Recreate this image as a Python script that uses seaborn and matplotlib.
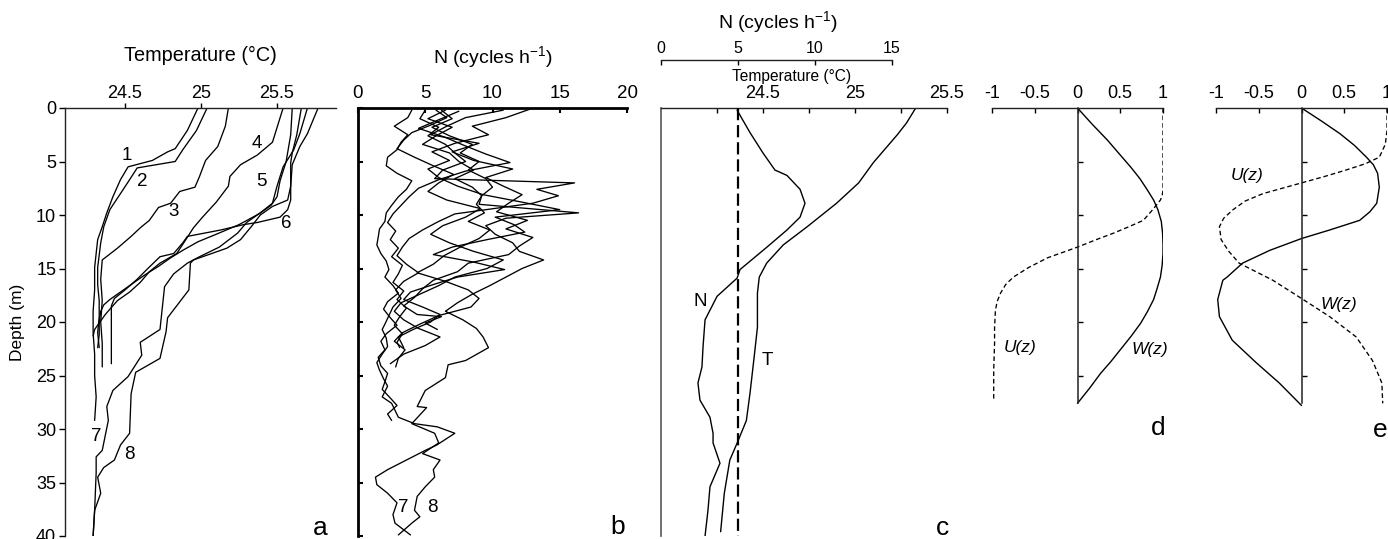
import numpy as np
import matplotlib
matplotlib.use('Agg')
import matplotlib.pyplot as plt
import seaborn as sns

sns.set_style('white')
plt.rcParams['font.family'] = ['Liberation Sans', 'DejaVu Sans']
plt.rcParams['mathtext.fontset'] = 'custom'
plt.rcParams['mathtext.rm'] = 'Liberation Sans'
plt.rcParams['mathtext.it'] = 'Liberation Sans:italic'
for key in ('text.color', 'axes.labelcolor', 'xtick.color', 'ytick.color'):
    plt.rcParams[key] = 'black'
FONT = ['Liberation Sans', 'DejaVu Sans']

# ---------------- data: panel a (temperature profiles) ----------------
a_T1 = [24.98, 24.91, 24.83, 24.78, 24.68, 24.52, 24.47, 24.42, 24.38, 24.35, 24.32, 24.30, 24.30, 24.29, 24.29, 24.30, 24.30, 24.31, 24.30]
a_d1 = [0, 2.1, 3.8, 4.1, 4.9, 5.5, 6.7, 8.3, 9.8, 11.1, 12.3, 14.9, 17, 19, 21, 23, 25, 27, 29.2]
a_T2 = [25.04, 24.97, 24.88, 24.83, 24.58, 24.53, 24.47, 24.40, 24.36, 24.34, 24.32, 24.32, 24.33, 24.33, 24.32, 24.33]
a_d2 = [0, 2.1, 3.9, 5.0, 5.6, 6.7, 8.0, 9.5, 11.1, 12.6, 14.9, 16.5, 18, 19.5, 21, 22.4]
a_T3 = [25.18, 25.16, 25.11, 25.03, 24.99, 24.96, 24.86, 24.80, 24.72, 24.66, 24.60, 24.54, 24.45, 24.35, 24.34, 24.35, 24.34, 24.35, 24.35]
a_d3 = [0, 1.7, 3.6, 4.9, 6.4, 7.4, 7.8, 8.9, 9.3, 10.5, 11.2, 12.0, 13.1, 14.2, 16, 18, 20, 22, 24.2]
a_T4 = [25.54, 25.47, 25.37, 25.26, 25.19, 25.18, 25.10, 25.01, 24.95, 24.90, 24.84, 24.73, 24.66, 24.60, 24.53, 24.45, 24.37, 24.30, 24.29]
a_d4 = [0, 3.2, 4.4, 5.3, 6.4, 7.3, 8.8, 10.2, 11.2, 12.3, 13.6, 14.5, 15.3, 16.3, 17.2, 18.0, 19.3, 20.7, 21.3]
a_T5 = [25.60, 25.59, 25.56, 25.52, 25.50, 25.46, 25.38, 25.25, 25.10, 24.98, 24.88, 24.80, 24.72, 24.63, 24.55, 24.47, 24.40, 24.36, 24.34, 24.33, 24.33, 24.32]
a_d5 = [0, 2.5, 5.0, 6.8, 8.3, 9.1, 9.9, 10.9, 11.8, 12.5, 13.3, 14.0, 14.8, 15.6, 16.4, 17.2, 17.9, 18.4, 19.0, 20, 21.2, 22.4]
a_T6 = [25.66, 25.63, 25.60, 25.59, 25.59, 25.57, 25.52, 25.37, 25.28, 25.13, 24.91, 24.88, 24.82, 24.73, 24.65, 24.58, 24.50, 24.43, 24.41, 24.41, 24.41, 24.41]
a_d6 = [0, 2.5, 4.2, 5.1, 8.6, 9.5, 10.2, 10.7, 10.9, 11.4, 12.0, 12.6, 13.6, 13.9, 15.0, 16.0, 17.0, 17.8, 18.5, 20, 22, 23.9]
a_T7 = [25.70, 25.65, 25.61, 25.54, 25.50, 25.47, 25.39, 25.30, 25.24, 25.12, 24.99, 24.91, 24.82, 24.76, 24.73, 24.60, 24.61, 24.52, 24.42, 24.38, 24.39, 24.35, 24.31, 24.31, 24.30, 24.29]
a_d7 = [0, 2.4, 3.9, 5.5, 7.3, 8.9, 9.8, 10.7, 11.7, 13.0, 13.9, 14.5, 15.5, 16.7, 20.7, 21.9, 23.1, 25.1, 26.4, 27.9, 29.2, 32.0, 32.6, 34.1, 37.6, 40.0]
a_T8 = [25.77, 25.70, 25.65, 25.60, 25.59, 25.57, 25.47, 25.39, 25.33, 25.26, 25.17, 25.01, 24.95, 24.93, 24.92, 24.78, 24.77, 24.73, 24.57, 24.54, 24.53, 24.47, 24.43, 24.36, 24.32, 24.34, 24.30, 24.29]
a_d8 = [0, 2.4, 3.6, 5.3, 7.3, 8.6, 9.2, 10.0, 11.1, 12.3, 13.1, 13.9, 14.2, 14.5, 17.0, 19.6, 20.9, 23.4, 24.7, 26.7, 30.4, 31.5, 32.9, 33.6, 34.5, 36.0, 37.6, 40.0]
a_profiles = [(a_T1, a_d1), (a_T2, a_d2), (a_T3, a_d3), (a_T4, a_d4),
              (a_T5, a_d5), (a_T6, a_d6), (a_T7, a_d7), (a_T8, a_d8)]
a_labels = ['1', '2', '3', '4', '5', '6', '7', '8']
a_label_T = [24.51, 24.61, 24.82, 25.37, 25.40, 25.56, 24.31, 24.53]
a_label_d = [4.4, 6.9, 9.7, 3.3, 6.9, 10.8, 30.7, 32.4]
a_ticks = [24.5, 25, 25.5]
a_ticklabels = ['24.5', '25', '25.5']

# ---------------- data: panel b (buoyancy frequency profiles) ----------------
b_d1 = [0.2, 0.9, 1.7, 2.5, 3.2, 3.9, 4.6, 5.4, 6.1, 6.8, 7.6, 8.3, 9.1, 9.8, 10.6, 11.3, 12.1, 12.8, 13.6, 14.3, 15.1, 15.8, 16.6, 17.3, 18.1, 18.8, 19.6, 20.3, 21.1, 21.8, 22.6, 23.3, 24.1, 24.8, 25.6, 26.3, 27.1, 27.8, 28.6, 29.2]
b_N1 = [4.0, 3.7, 2.7, 3.7, 3.2, 2.9, 2.2, 2.1, 2.9, 4.0, 3.6, 3.0, 2.5, 2.1, 2.0, 1.6, 1.5, 1.4, 1.7, 2.1, 2.3, 2.0, 2.6, 3.0, 2.2, 1.9, 2.4, 2.9, 2.1, 1.7, 2.0, 1.5, 1.7, 2.2, 2.0, 1.8, 2.4, 2.9, 2.2, 2.5]
b_d2 = [0.3, 1.1, 1.9, 2.7, 3.5, 4.3, 5.1, 5.9, 6.7, 7.5, 8.3, 9.1, 9.9, 10.7, 11.5, 12.3, 13.1, 13.9, 14.7, 15.5, 16.3, 17.1, 17.9, 18.7, 19.5, 20.3, 21.1, 21.9, 22.4]
b_N2 = [7.5, 6.0, 4.5, 6.4, 7.9, 9.5, 11.3, 8.0, 6.0, 4.5, 3.8, 3.2, 2.6, 2.2, 2.8, 2.4, 3.0, 2.5, 3.3, 3.0, 2.6, 3.4, 2.9, 3.6, 3.1, 2.7, 3.3, 2.9, 3.1]
b_d3 = [0.2, 1.0, 1.8, 2.6, 3.4, 4.2, 5.0, 5.8, 6.6, 7.4, 8.2, 9.0, 9.8, 10.6, 11.4, 12.2, 13.0, 13.8, 14.6, 15.4, 16.2, 17.0, 17.8, 18.6, 19.4, 20.2, 21.0, 21.8, 22.6, 23.4, 24.2]
b_N3 = [6.5, 5.2, 7.0, 5.8, 4.8, 6.8, 7.5, 8.6, 7.2, 8.5, 9.2, 8.8, 9.4, 8.2, 9.8, 9.0, 7.6, 6.4, 5.6, 4.4, 6.5, 8.2, 9.0, 8.4, 6.0, 4.6, 3.3, 2.7, 3.5, 3.0, 2.8]
b_d4 = [0.2, 0.9, 1.7, 2.5, 3.3, 4.1, 4.9, 5.7, 6.5, 7.3, 8.1, 8.9, 9.7, 10.5, 11.3, 12.1, 12.9, 13.7, 14.5, 15.3, 16.1, 16.9, 17.7, 18.5, 19.3, 19.5, 20.1, 20.7]
b_N4 = [10.8, 8.0, 6.6, 5.4, 9.0, 7.0, 8.6, 11.5, 9.5, 10.8, 12.2, 11.2, 10.3, 12.6, 11.0, 13.0, 12.0, 11.2, 8.2, 7.4, 5.6, 4.8, 4.2, 3.4, 4.4, 6.2, 5.0, 5.9]
b_d5 = [0.1, 0.9, 1.7, 2.5, 3.3, 4.1, 4.9, 5.7, 6.5, 7.3, 8.1, 8.8, 9.5, 10.2, 10.9, 11.6, 12.3, 13.0, 13.7, 14.4, 15.1, 15.8, 16.5, 17.2, 17.9, 18.6, 19.3, 20.0, 20.7, 21.4, 22.4]
b_N5 = [12.8, 11.0, 8.5, 9.7, 7.2, 5.5, 6.8, 5.2, 6.0, 7.4, 9.3, 12.2, 15.0, 10.2, 11.6, 12.4, 9.6, 7.0, 5.6, 8.6, 10.9, 7.4, 5.6, 3.9, 3.4, 4.8, 6.1, 5.4, 4.1, 3.0, 3.4]
b_d6 = [0.2, 0.9, 1.6, 2.3, 3.0, 3.8, 4.6, 5.4, 6.2, 7.0, 7.8, 8.6, 9.4, 10.2, 11.0, 11.8, 12.6, 13.4, 14.2, 15.0, 15.8, 16.6, 17.4, 18.2, 19.0, 19.8, 20.6, 21.4, 22.2, 23.0, 23.9]
b_N6 = [5.8, 6.6, 5.4, 4.0, 3.4, 2.9, 4.2, 5.6, 7.1, 6.0, 5.2, 6.6, 9.1, 8.0, 6.3, 5.4, 6.8, 8.6, 10.8, 9.6, 7.2, 6.0, 4.6, 3.2, 2.7, 3.4, 4.5, 6.1, 5.0, 3.4, 2.4]
b_d7 = [0.2, 1.0, 1.8, 2.6, 3.4, 4.2, 5.0, 5.8, 6.6, 7.0, 7.6, 8.2, 8.9, 9.9, 10.6, 11.4, 12.2, 13.0, 13.8, 14.6, 15.4, 16.2, 17.0, 17.8, 18.6, 19.4, 20.2, 20.7, 21.5, 22.3, 23.0, 23.8, 24.5, 25.3, 26.0, 27.0, 27.6, 28.9, 29.5, 29.8, 30.4, 31.5, 32.0, 32.9, 33.8, 34.5, 35.2, 36.0, 36.9, 38.0, 38.8, 39.9]
b_N7 = [5.0, 4.6, 6.0, 5.2, 6.5, 7.2, 8.0, 6.3, 5.7, 16.1, 13.3, 14.9, 13.0, 7.2, 6.0, 4.8, 3.8, 3.3, 2.9, 3.6, 4.5, 3.4, 2.8, 3.2, 2.6, 2.3, 2.0, 1.8, 2.1, 2.2, 1.8, 1.4, 1.6, 1.9, 2.2, 1.8, 2.5, 3.0, 4.2, 5.9, 7.2, 5.85, 5.0, 3.6, 2.2, 1.3, 1.4, 2.2, 2.9, 2.6, 2.75, 3.9]
b_d8 = [0.2, 1.0, 1.8, 2.6, 3.4, 4.2, 5.0, 5.8, 6.6, 7.4, 8.2, 9.0, 9.8, 10.3, 11.0, 11.8, 12.6, 13.4, 14.2, 15.0, 15.8, 16.6, 17.4, 18.2, 19.0, 19.8, 20.6, 21.4, 22.4, 23.6, 24.0, 25.2, 26.4, 27.9, 28.0, 29.5, 30.4, 31.3, 32.3, 32.9, 33.8, 34.5, 35.4, 36.3, 37.6, 38.2, 38.8, 39.9]
b_N8 = [6.2, 7.0, 5.5, 6.8, 8.5, 7.6, 9.0, 8.2, 9.5, 10.0, 9.2, 9.0, 16.4, 11.0, 9.5, 10.2, 11.5, 12.0, 13.8, 12.2, 11.0, 9.8, 8.5, 7.4, 6.5, 7.8, 8.8, 9.3, 9.7, 8.0, 6.7, 6.5, 5.0, 4.4, 5.1, 4.0, 5.7, 6.0, 4.8, 6.1, 5.6, 5.7, 5.0, 4.4, 4.2, 4.6, 4.0, 3.0]
b_profiles = [(b_N1, b_d1), (b_N2, b_d2), (b_N3, b_d3), (b_N4, b_d4),
              (b_N5, b_d5), (b_N6, b_d6), (b_N7, b_d7), (b_N8, b_d8)]
b_ticks = [0, 5, 10, 15, 20]

# ---------------- data: panel c (mean T and N) ----------------
c_T = [25.33, 25.28, 25.23, 25.10, 25.02, 24.90, 24.74, 24.61, 24.52, 24.48, 24.47, 24.47, 24.45, 24.43, 24.41, 24.36, 24.32, 24.29, 24.27]
c_Td = [0, 1.4, 2.5, 5.1, 7.0, 8.9, 11.1, 12.8, 14.5, 15.8, 17.3, 20.5, 23.6, 26.6, 29.2, 31.3, 32.9, 36.0, 39.6]
c_N = [4.94, 5.78, 6.62, 7.40, 8.18, 9.03, 9.35, 9.03, 8.18, 6.88, 5.13, 4.94, 3.64, 2.86, 2.73, 2.66, 2.40, 2.53, 3.18, 3.38, 3.38, 3.83, 3.18, 3.05, 2.86]
c_Nd = [0.2, 2.3, 4.2, 5.8, 6.3, 7.6, 8.9, 10.2, 11.4, 13.0, 15.1, 15.9, 17.6, 19.8, 22.3, 24.2, 25.7, 27.3, 28.9, 30.4, 31.3, 33.2, 35.4, 37.6, 40.0]
c_Nref = 5
c_Tticks = [24.25, 24.5, 24.75, 25, 25.25, 25.5]
c_Tticklabels = ['', '24.5', '', '25', '', '25.5']
c_Nticks = [0, 5, 10, 15]

# ---------------- data: panels d, e (vertical modes) ----------------
d_W = [0, 0.17, 0.35, 0.49, 0.62, 0.73, 0.82, 0.89, 0.94, 0.98, 0.995, 1.0, 1.0, 0.99, 0.97, 0.93, 0.89, 0.82, 0.74, 0.63, 0.50, 0.39, 0.27, 0.14, 0]
d_Wd = [0, 1.5, 3.0, 4.3, 5.5, 6.6, 7.7, 8.6, 9.5, 10.6, 11.7, 12.7, 13.6, 14.7, 15.8, 16.9, 17.9, 19.0, 20.1, 21.3, 22.6, 23.7, 24.8, 26.2, 27.6]
d_U = [1.0, 1.0, 0.99, 0.97, 0.88, 0.77, 0.60, 0.42, 0.22, 0.0, -0.35, -0.57, -0.75, -0.84, -0.90, -0.94, -0.96, -0.97, -0.97, -0.98, -0.98]
d_Ud = [0, 7.7, 8.2, 8.6, 9.5, 10.5, 11.1, 11.7, 12.3, 13.0, 14.0, 14.9, 15.8, 16.5, 17.3, 18.1, 18.9, 20.5, 22.0, 24.5, 27.3]
e_W = [0, 0.23, 0.45, 0.62, 0.76, 0.84, 0.89, 0.91, 0.88, 0.80, 0.68, 0.33, 0, -0.37, -0.69, -0.87, -0.92, -0.98, -0.96, -0.81, -0.53, -0.26, 0]
e_Wd = [0, 1.2, 2.4, 3.5, 4.6, 5.3, 6.1, 7.4, 8.9, 9.7, 10.5, 11.4, 12.2, 13.3, 14.5, 15.8, 16.1, 17.9, 19.5, 21.7, 23.8, 25.7, 27.8]
e_U = [1.0, 1.0, 0.98, 0.91, 0.75, 0.52, 0.27, 0, -0.45, -0.66, -0.80, -0.91, -0.96, -0.94, -0.85, -0.73, -0.335, 0, 0.33, 0.64, 0.83, 0.94, 0.95]
e_Ud = [0, 2.1, 3.4, 4.6, 5.2, 5.8, 6.4, 7.0, 8.0, 8.7, 9.5, 10.3, 11.1, 12.3, 13.4, 14.5, 16.1, 17.8, 19.5, 21.4, 23.6, 25.7, 27.6]
mode_bottom = 27.6
mode_ticks = [-1, -0.5, 0, 0.5, 1]
mode_ticklabels = ['-1', '-0.5', '0', '0.5', '1']
depth_ticks = [0, 5, 10, 15, 20, 25, 30, 35, 40]

# ---------------- figure ----------------
W, H = 1388, 539
fig = plt.figure(figsize=(W / 100, H / 100), dpi=100)
fig.patch.set_facecolor('white')
PX = 0.72  # points per pixel at 100 dpi


def rect(x0, x1, y0=108, y1=536):
    return [x0 / W, 1 - y1 / H, (x1 - x0) / W, (y1 - y0) / H]


def line(ax, x, y, lw=1.0, dashes=None):
    sns.lineplot(x=x, y=y, sort=False, estimator=None, ax=ax, color='black',
                 linewidth=lw, legend=False)
    ln = ax.lines[-1]
    if dashes is not None:
        ln.set_dashes(dashes)
    return ln


def hide(ax, *names):
    for n in names:
        ax.spines[n].set_visible(False)


def setfont(labels, size):
    for t in labels:
        t.set_family(FONT)
        t.set_fontsize(size)


# ---- panel a ----
ax_a = fig.add_axes(rect(65, 336))
for T, d in a_profiles:
    line(ax_a, T, d, lw=0.95)
ax_a.set_xlim(24.105, 25.888)
ax_a.set_ylim(40, 0)
hide(ax_a, 'right', 'bottom')
for s in ('left', 'top'):
    ax_a.spines[s].set_color('#222222')
    ax_a.spines[s].set_linewidth(1.0)
ax_a.xaxis.tick_top()
ax_a.set_xticks(a_ticks)
ax_a.set_xticklabels(a_ticklabels)
ax_a.set_yticks(depth_ticks)
ax_a.tick_params(axis='x', direction='out', length=5 * PX, width=1, pad=1, labelsize=13, top=True, bottom=False)
ax_a.tick_params(axis='y', direction='out', length=6 * PX, width=1, pad=2, labelsize=13, left=True)
ax_a.set_xlabel('Temperature (°C)', fontsize=14.3)
ax_a.xaxis.set_label_position('top')
ax_a.xaxis.set_label_coords(0.5, (536 - 55) / 428)
ax_a.xaxis.label.set_va('center')
ax_a.set_ylabel('Depth (m)', fontsize=12.5)
ax_a.yaxis.set_label_coords((18 - 65) / 271, 0.5)
ax_a.yaxis.label.set_va('center')
for lab, x, y in zip(a_labels, a_label_T, a_label_d):
    ax_a.text(x, y, lab, ha='center', va='center', fontsize=13.5)
ax_a.text(0.941, 0.019, 'a', transform=ax_a.transAxes, ha='center', va='center', fontsize=19)

# ---- panel b ----
ax_b = fig.add_axes(rect(358, 627))
for N, d in b_profiles:
    line(ax_b, N, d, lw=0.95)
ax_b.set_xlim(0, 20)
ax_b.set_ylim(40, 0)
hide(ax_b, 'right', 'bottom')
for s in ('left', 'top'):
    ax_b.spines[s].set_linewidth(2.0)
    ax_b.spines[s].set_color('black')
ax_b.xaxis.tick_top()
ax_b.set_xticks(b_ticks)
ax_b.set_xticklabels([str(t) for t in b_ticks])
ax_b.set_yticks(depth_ticks)
ax_b.set_yticklabels([])
ax_b.tick_params(axis='x', direction='in', length=5 * PX, width=1.5, pad=4, top=True, bottom=False)
ax_b.tick_params(axis='y', direction='in', length=5 * PX, width=1.5, left=True)
setfont(ax_b.get_xticklabels(), 13.5)
ax_b.set_xlabel('N (cycles h$^{-1}$)', fontsize=14)
ax_b.xaxis.set_label_position('top')
ax_b.xaxis.set_label_coords(0.5, (536 - 57) / 428)
ax_b.xaxis.label.set_va('center')
ax_b.set_ylabel('')
ax_b.text(3.35, 37.3, '7', ha='center', va='center', fontsize=13.5)
ax_b.text(5.5, 37.3, '8', ha='center', va='center', fontsize=13.5)
ax_b.text(0.967, 0.021, 'b', transform=ax_b.transAxes, ha='center', va='center', fontsize=19)

# ---- panel c ----
ax_c = fig.add_axes(rect(661, 947))
ax_c2 = ax_c.twiny()
line(ax_c, c_T, c_Td, lw=1.0)
line(ax_c2, c_N, c_Nd, lw=1.0)
line(ax_c2, [c_Nref, c_Nref], [0, 40], lw=1.6, dashes=(5.5, 2.2))
ax_c.set_xlim(23.946, 25.5)
ax_c2.set_xlim(0, (947 - 661) / 15.4)
ax_c.set_ylim(40, 0)
ax_c2.set_ylim(40, 0)
hide(ax_c, 'right', 'bottom')
hide(ax_c2, 'right', 'bottom', 'left')
ax_c.spines['left'].set_color('#555555')
ax_c.spines['left'].set_linewidth(1.2)
ax_c.spines['top'].set_linewidth(1.0)
ax_c.spines['top'].set_color('#222222')
ax_c.xaxis.tick_top()
ax_c.xaxis.set_label_position('top')
ax_c.set_xticks(c_Tticks)
ax_c.set_xticklabels(c_Tticklabels)
ax_c.set_yticks(depth_ticks)
ax_c.set_yticklabels([])
ax_c.tick_params(axis='x', direction='in', length=5 * PX, width=1, pad=4, top=True, bottom=False, labeltop=True, labelbottom=False)
ax_c.tick_params(axis='y', direction='in', length=5 * PX, width=1, left=True, colors='#444444')
setfont(ax_c.get_xticklabels(), 13)
ax_c.set_xlabel('Temperature (°C)', fontsize=11.2)
ax_c.xaxis.set_label_coords((792 - 661) / 286, (536 - 76) / 428)
ax_c.xaxis.label.set_va('center')
ax_c.set_ylabel('')
ax_c2.spines['top'].set_position(('outward', 48 * PX))
ax_c2.spines['top'].set_bounds(0, 15)
ax_c2.spines['top'].set_linewidth(1.0)
ax_c2.spines['top'].set_color('#222222')
ax_c2.set_xticks(c_Nticks)
ax_c2.set_xticklabels([str(t) for t in c_Nticks])
ax_c2.tick_params(axis='x', direction='in', length=5 * PX, width=1, pad=3, top=True, bottom=False)
ax_c2.set_yticks([])
setfont(ax_c2.get_xticklabels(), 11.5)
ax_c2.set_xlabel('N (cycles h$^{-1}$)', fontsize=14)
ax_c2.xaxis.set_label_position('top')
ax_c2.xaxis.set_label_coords((778 - 661) / 286, (536 - 22) / 428)
ax_c2.xaxis.label.set_va('center')
ax_c2.set_ylabel('')
ax_c2.text(2.53, 18.1, 'N', ha='center', va='center', fontsize=13.5)
ax_c2.text(6.88, 23.6, 'T', ha='center', va='center', fontsize=13.5)
ax_c.text(0.983, 0.019, 'c', transform=ax_c.transAxes, ha='center', va='center', fontsize=19)


# ---- panels d, e ----
def mode_panel(x0, x1, Wv, Wd, Uv, Ud, letter, letter_pos, Wlab, Ulab):
    ax = fig.add_axes(rect(x0, x1))
    line(ax, Wv, Wd, lw=1.0)
    line(ax, Uv, Ud, lw=0.95, dashes=(3.5, 2.2))
    ax.set_xlim(-1, 1)
    ax.set_ylim(40, 0)
    hide(ax, 'right', 'bottom')
    ax.spines['left'].set_position(('data', 0))
    ax.spines['left'].set_bounds(0, mode_bottom)
    ax.spines['left'].set_linewidth(1.1)
    ax.spines['top'].set_linewidth(1.0)
    ax.spines['top'].set_color('#222222')
    ax.spines['left'].set_color('#222222')
    ax.xaxis.tick_top()
    ax.set_xticks(mode_ticks)
    ax.set_xticklabels(mode_ticklabels)
    ax.set_yticks([5, 10, 15, 20, 25])
    ax.set_yticklabels([])
    ax.tick_params(axis='x', direction='in', length=5 * PX, width=1, pad=4, labelsize=13, top=True, bottom=False)
    ax.tick_params(axis='y', direction='in', length=5 * PX, width=1, left=True)
    ax.set_xlabel('')
    ax.set_ylabel('')
    ax.text(Wlab[0], Wlab[1], 'W(z)', style='italic', fontsize=12.5, ha='center', va='center')
    ax.text(Ulab[0], Ulab[1], 'U(z)', style='italic', fontsize=12.5, ha='center', va='center')
    ax.text(letter_pos[0], letter_pos[1], letter, transform=ax.transAxes, ha='center', va='center', fontsize=19)
    return ax


mode_panel(992, 1163, d_W, d_Wd, d_U, d_Ud, 'd', (0.971, 0.252), (0.85, 22.6), (-0.67, 22.4))
mode_panel(1216, 1387, e_W, e_Wd, e_U, e_Ud, 'e', (0.959, 0.248), (0.44, 18.4), (-0.64, 6.3))

fig.savefig('out.png', dpi=100, facecolor='white')
